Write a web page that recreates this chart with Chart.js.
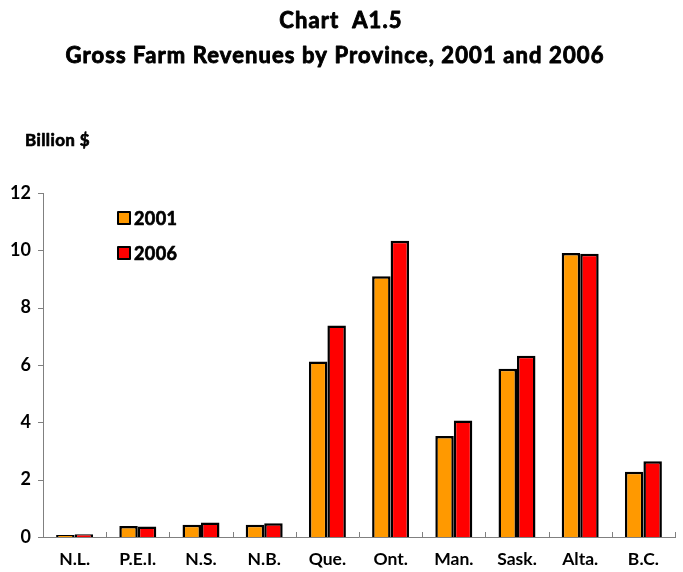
<!DOCTYPE html>
<html>
<head>
<meta charset="utf-8">
<script src="https://cdn.jsdelivr.net/npm/chart.js@4/dist/chart.umd.min.js"></script>
<style>
  html, body { margin: 0; padding: 0; background: #fff; }
  #wrap { width: 683px; height: 572px; position: relative; }
</style>
</head>
<body>
<div id="wrap"><canvas id="chart" width="683" height="572"></canvas></div>
<script>
// Gross farm revenues by province, billion dollars
const provinces = ['N.L.', 'P.E.I.', 'N.S.', 'N.B.', 'Que.', 'Ont.', 'Man.', 'Sask.', 'Alta.', 'B.C.'];
const rev2001 = [0.07, 0.38, 0.43, 0.43, 6.12, 9.10, 3.52, 5.87, 9.91, 2.28];
const rev2006 = [0.10, 0.37, 0.51, 0.48, 7.38, 10.33, 4.06, 6.32, 9.88, 2.64];
const yTicks = [0, 2, 4, 6, 8, 10, 12];

const FONT = 'Lato, "Open Sans", sans-serif';
const AXIS = '#808080';

// bold text with a thin outline so it reads heavier
function heavyText(ctx, text, x, y, w) {
  ctx.lineWidth = w;
  ctx.strokeStyle = '#000';
  ctx.lineJoin = 'round';
  ctx.strokeText(text, x, y);
  ctx.fillText(text, x, y);
}

// Titles, unit label, legend and axis tick marks drawn by hand
const decor = {
  id: 'decor',
  afterDraw(chart) {
    const { ctx, chartArea: a, scales: { x, y } } = chart;
    ctx.save();
    ctx.fillStyle = '#000';
    ctx.textAlign = 'center';
    ctx.textBaseline = 'alphabetic';
    ctx.font = `bold 22px ${FONT}`;
    ctx.letterSpacing = '1.1px';
    heavyText(ctx, 'Chart  A1.5', 341, 28, 0.9);
    heavyText(ctx, 'Gross Farm Revenues by Province, 2001 and 2006', 335, 63, 0.9);
    ctx.letterSpacing = '0.4px';
    ctx.textAlign = 'left';
    ctx.font = `bold 17px ${FONT}`;
    heavyText(ctx, 'Billion $', 25, 146, 0.7);

    // tick marks
    ctx.strokeStyle = AXIS;
    ctx.lineWidth = 1;
    ctx.beginPath();
    yTicks.forEach(v => {
      const py = Math.round(y.getPixelForValue(v)) + 0.5;
      ctx.moveTo(a.left - 5, py);
      ctx.lineTo(a.left, py);
    });
    const step = (a.right - a.left) / provinces.length;
    for (let i = 0; i <= provinces.length; i++) {
      const px = Math.round(a.left + i * step) + 0.5;
      ctx.moveTo(px, a.bottom);
      ctx.lineTo(px, a.bottom - 5);
    }
    ctx.stroke();

    // legend
    ctx.font = `bold 18px ${FONT}`;
    ctx.textBaseline = 'middle';
    chart.data.datasets.forEach((ds, i) => {
      const ly = 218 + i * 35;
      ctx.fillStyle = ds.backgroundColor;
      ctx.fillRect(118, ly - 6, 12, 12);
      ctx.strokeStyle = '#000';
      ctx.lineWidth = 2;
      ctx.strokeRect(118, ly - 6, 12, 12);
      ctx.fillStyle = '#000';
      heavyText(ctx, ds.label, 134, ly + 1, 0.7);
    });
    ctx.restore();
  }
};

new Chart(document.getElementById('chart'), {
  type: 'bar',
  data: {
    labels: provinces,
    datasets: [
      { label: '2001', data: rev2001, backgroundColor: '#FF9900', borderColor: '#000', borderWidth: 2.5 },
      { label: '2006', data: rev2006, backgroundColor: '#FF0000', borderColor: '#000', borderWidth: 2.5 },
    ],
  },
  options: {
    responsive: false,
    animation: false,
    layout: { padding: { top: 193, right: 8, left: 0, bottom: 0 } },
    datasets: { bar: { categoryPercentage: 0.585, barPercentage: 1 } },
    plugins: { legend: { display: false }, tooltip: { enabled: false }, title: { display: false } },
    scales: {
      x: {
        grid: { display: false, drawTicks: false },
        border: { color: AXIS, width: 1 },
        ticks: { color: '#000', font: { family: FONT, size: 17.5, weight: 'bold' }, padding: 12 },
        afterFit(s) { s.height = 35; },
      },
      y: {
        min: 0, max: 12,
        afterBuildTicks(s) { s.ticks = yTicks.map(v => ({ value: v })); },
        grid: { display: false, drawTicks: false },
        border: { color: AXIS, width: 1 },
        ticks: { color: '#000', font: { family: FONT, size: 18, weight: 'bold' }, padding: 12 },
        afterFit(s) { s.width = 43; },
      },
    },
  },
  plugins: [decor],
});
</script>
</body>
</html>
